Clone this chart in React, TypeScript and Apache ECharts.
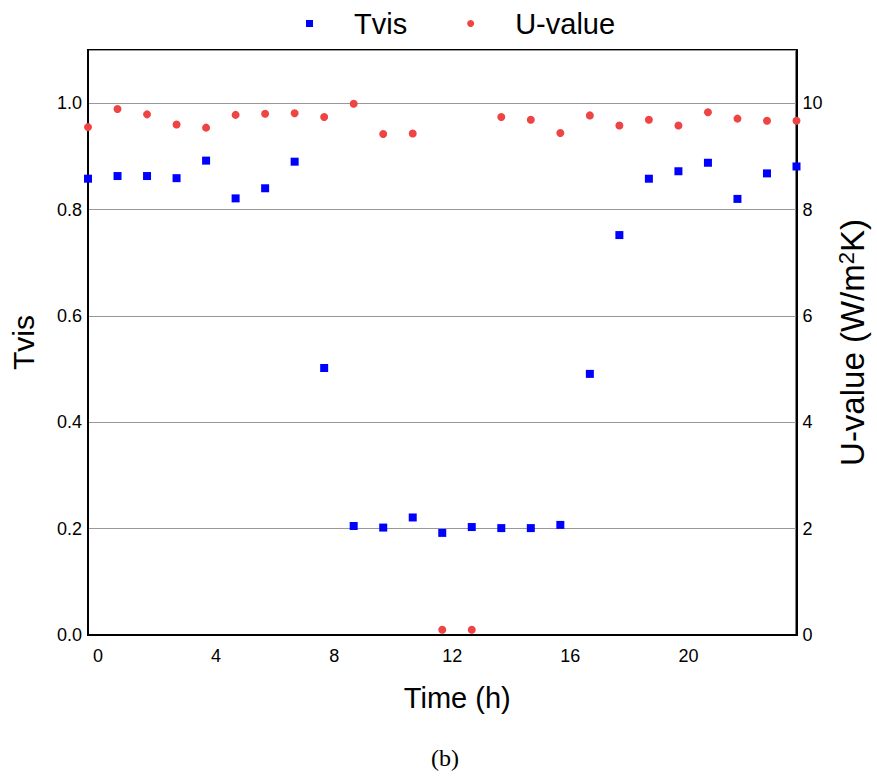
import React, { useEffect, useRef } from "react";
import * as echarts from "echarts";

const hours = [0, 1, 2, 3, 4, 5, 6, 7, 8, 9, 10, 11, 12, 13, 14, 15, 16, 17, 18, 19, 20, 21, 22, 23, 24];
const tvis = [0.858, 0.863, 0.863, 0.859, 0.892, 0.821, 0.840, 0.890, 0.502, 0.205, 0.202, 0.221, 0.192, 0.203, 0.201, 0.201, 0.207, 0.491, 0.752, 0.858, 0.872, 0.888, 0.820, 0.868, 0.881];
const uValue = [9.55, 9.89, 9.79, 9.60, 9.54, 9.78, 9.80, 9.81, 9.74, 9.99, 9.42, 9.43, 0.10, 0.10, 9.74, 9.69, 9.44, 9.77, 9.58, 9.69, 9.58, 9.83, 9.71, 9.67, 9.67];
const legendNames = ["Tvis", "U-value"];

const FONT = "'Liberation Sans', Arial, sans-serif";

export default function App() {
  const ref = useRef<HTMLDivElement>(null);
  useEffect(() => {
    if (!ref.current) return;
    const chart = echarts.init(ref.current, null, { renderer: "svg" });
    chart.setOption({
      animation: false,
      backgroundColor: "#fff",
      textStyle: { fontFamily: FONT },
      legend: {
        data: [
          { name: legendNames[0], icon: "rect" },
          { name: legendNames[1], icon: "circle" },
        ],
        left: 301,
        top: 4,
        itemWidth: 7,
        itemHeight: 7,
        itemGap: 60,
        textStyle: { fontSize: 29, color: "#000", fontFamily: FONT, padding: [0, 0, 0, 36] },
      },
      grid: {
        left: 84,
        right: 69,
        top: 50,
        bottom: 143,
        show: true,
        borderColor: "#000",
        borderWidth: 2,
      },
      xAxis: {
        type: "value",
        min: 0,
        max: 24,
        interval: 4,
        name: "Time (h)",
        nameLocation: "middle",
        nameGap: 48,
        nameTextStyle: { fontSize: 29, color: "#000", fontFamily: FONT, padding: [0, 0, 0, 30] },
        axisLine: { show: true, lineStyle: { color: "#000", width: 2 } },
        axisTick: { show: false },
        splitLine: { show: false },
        axisLabel: { fontSize: 18, color: "#000", margin: 12, showMaxLabel: false, padding: [0, 0, 0, 20] },
      },
      yAxis: [
        {
          type: "value",
          min: 0,
          max: 1.1,
          interval: 0.2,
          name: "Tvis",
          nameLocation: "middle",
          nameGap: 50,
          nameTextStyle: { fontSize: 30, color: "#000", fontFamily: FONT },
          axisLine: { show: true, lineStyle: { color: "#000", width: 2 } },
          axisTick: { show: false },
          splitLine: { show: true, lineStyle: { color: "#999", width: 1 } },
          axisLabel: {
            fontSize: 18,
            color: "#000",
            margin: 6,
            showMaxLabel: false,
            formatter: (v: number) => v.toFixed(1),
          },
        },
        {
          type: "value",
          min: 0,
          max: 11,
          interval: 2,
          position: "right",
          name: "{a|U-value (W/m}{s|2}{a|K)}",
          nameLocation: "middle",
          nameGap: 39,
          nameTextStyle: {
            color: "#000",
            fontFamily: FONT,
            rich: {
              a: { fontSize: 33, color: "#000", fontFamily: FONT },
              s: { fontSize: 22, color: "#000", fontFamily: FONT, verticalAlign: "top", padding: [0, 0, 12, 0] },
            },
          },
          axisLine: { show: true, lineStyle: { color: "#000", width: 2 } },
          axisTick: { show: false },
          splitLine: { show: false },
          axisLabel: { fontSize: 18, color: "#000", margin: 6, showMaxLabel: false },
        },
      ],
      series: [
        {
          name: legendNames[0],
          type: "scatter",
          yAxisIndex: 0,
          symbol: "rect",
          symbolSize: 8,
          itemStyle: { color: "#0000ff", opacity: 1 },
          data: hours.map((h, i) => [h, tvis[i]]),
        },
        {
          name: legendNames[1],
          type: "scatter",
          yAxisIndex: 1,
          symbol: "circle",
          symbolSize: 8,
          itemStyle: { color: "#ee4444", opacity: 1 },
          data: hours.map((h, i) => [h, uValue[i]]),
        },
      ],
      graphic: [
        {
          type: "text",
          left: 431,
          top: 746,
          style: { text: "(b)", fontSize: 24, fontFamily: "'Liberation Serif', 'Times New Roman', serif", fill: "#000" },
        },
      ],
    });
    return () => chart.dispose();
  }, []);
  return <div ref={ref} style={{ width: 877, height: 778, position: "absolute", left: 0, top: 0 }} />;
}
